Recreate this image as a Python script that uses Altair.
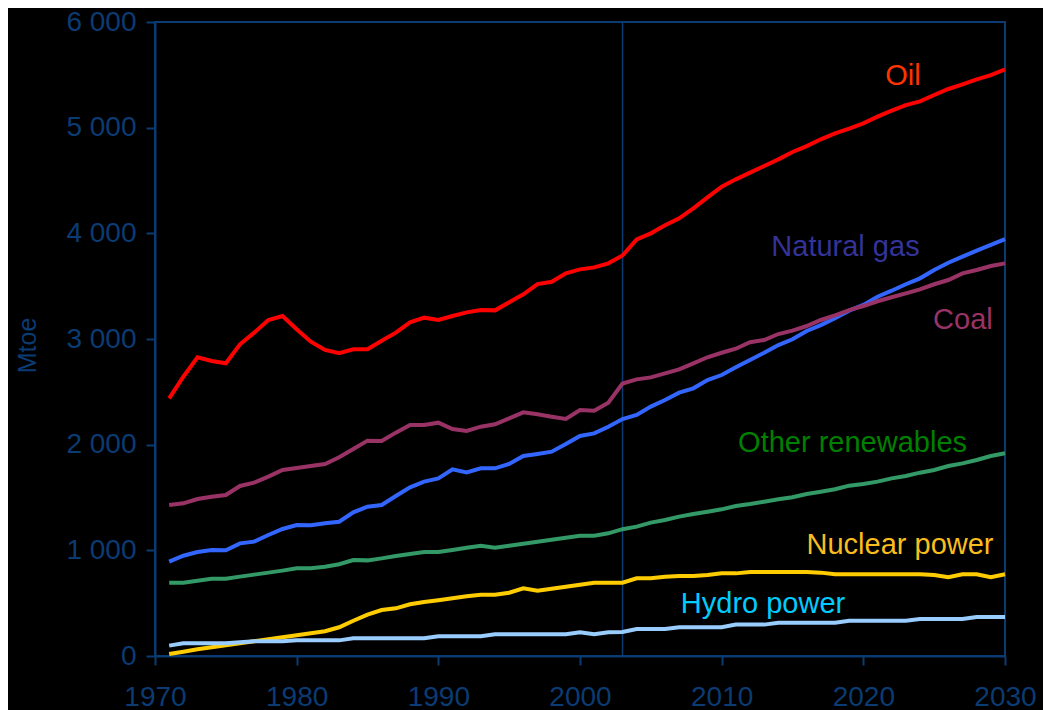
import altair as alt
import pandas as pd

years = list(range(1971, 2031))

oil = [2439, 2643, 2827, 2792, 2770, 2950, 3060, 3180, 3218, 3092,
       2975, 2896, 2865, 2903, 2903, 2984, 3060, 3158, 3202, 3180,
       3218, 3252, 3274, 3271, 3347, 3423, 3520, 3542, 3621, 3659,
       3678, 3716, 3790, 3943, 4000, 4076, 4142, 4237, 4341, 4442,
       4511, 4574, 4637, 4700, 4770, 4826, 4890, 4946, 4990, 5041,
       5104, 5161, 5214, 5249, 5309, 5366, 5410, 5457, 5498, 5552]

coal = [1429, 1445, 1486, 1508, 1524, 1609, 1640, 1697, 1760, 1779,
        1798, 1817, 1880, 1959, 2038, 2035, 2114, 2186, 2186, 2208,
        2148, 2129, 2170, 2193, 2249, 2306, 2287, 2265, 2243, 2328,
        2322, 2397, 2578, 2618, 2637, 2675, 2713, 2770, 2827, 2870,
        2908, 2969, 2990, 3047, 3079, 3123, 3180, 3224, 3274, 3312,
        3357, 3395, 3432, 3470, 3518, 3558, 3621, 3653, 3691, 3716]

gas = [893, 949, 984, 1003, 1000, 1066, 1082, 1145, 1202, 1240,
       1237, 1256, 1271, 1360, 1413, 1429, 1514, 1596, 1650, 1681,
       1767, 1738, 1776, 1776, 1817, 1893, 1912, 1934, 2006, 2082,
       2107, 2170, 2242, 2281, 2360, 2423, 2492, 2533, 2612, 2659,
       2732, 2801, 2870, 2943, 2997, 3076, 3132, 3196, 3268, 3322,
       3400, 3457, 3518, 3574, 3653, 3722, 3779, 3836, 3890, 3946]

renew = [694, 694, 713, 732, 732, 751, 770, 789, 808, 830,
         830, 845, 868, 908, 905, 924, 946, 965, 984, 984,
         1003, 1025, 1044, 1025, 1044, 1063, 1082, 1101, 1120, 1139,
         1139, 1161, 1200, 1224, 1262, 1287, 1319, 1344, 1366, 1388,
         1420, 1438, 1460, 1483, 1502, 1533, 1555, 1578, 1612, 1628,
         1650, 1681, 1703, 1735, 1760, 1798, 1823, 1855, 1893, 1918]

nuclear = [19, 41, 63, 82, 101, 120, 139, 158, 177, 196,
           215, 234, 272, 334, 391, 435, 451, 489, 511, 527,
           546, 565, 580, 580, 599, 640, 618, 637, 656, 675,
           694, 694, 694, 735, 735, 751, 757, 757, 767, 782,
           782, 795, 795, 795, 795, 795, 789, 773, 773, 773,
           773, 773, 773, 773, 767, 745, 773, 773, 745, 773]

hydro = [98, 120, 120, 120, 120, 129, 139, 139, 139, 148,
         148, 148, 148, 167, 167, 167, 167, 167, 167, 186,
         186, 186, 186, 205, 205, 205, 205, 205, 205, 224,
         205, 224, 228, 255, 255, 255, 272, 272, 272, 272,
         297, 297, 297, 315, 315, 315, 315, 315, 334, 334,
         334, 334, 334, 350, 350, 350, 350, 369, 369, 369]

series_names = ["Nuclear power", "Hydro power", "Other renewables", "Natural gas", "Coal", "Oil"]
series_values = [nuclear, hydro, renew, gas, coal, oil]
line_colors = ["#FFCC00", "#99CCFF", "#339966", "#3366FF", "#993366", "#FF0000"]

label_texts = ["Oil", "Natural gas", "Coal", "Other renewables", "Nuclear power", "Hydro power"]
label_x = [2022.8, 2018.74, 2027.03, 2019.24, 2022.59, 2012.92]
label_y = [5404, 3785, 3095, 1931, 965, 407]
label_colors = ["#FF3300", "#333399", "#993366", "#008000", "#F9BE1E", "#00CCFF"]

x_ticks = [1970, 1980, 1990, 2000, 2010, 2020, 2030]
y_ticks = [0, 1000, 2000, 3000, 4000, 5000, 6000]
base_year = [2003]

AXIS_COLOR = "#0B3B73"

rows = []
for name, vals in zip(series_names, series_values):
    for yr, v in zip(years, vals):
        rows.append({"year": yr, "value": v, "series": name})
df = pd.DataFrame(rows)

labels_df = pd.DataFrame({"text": label_texts, "x": label_x, "y": label_y, "color": label_colors})
rule_df = pd.DataFrame({"year": base_year})

x_scale = alt.Scale(domain=[1970, 2030], nice=False, zero=False)
y_scale = alt.Scale(domain=[0, 6000], nice=False)

lines = alt.Chart(df).mark_line(strokeWidth=4).encode(
    x=alt.X("year:Q", scale=x_scale,
            axis=alt.Axis(values=x_ticks, format="d", title=None, labelFlush=False,
                          labelPadding=18)),
    y=alt.Y("value:Q", scale=y_scale,
            axis=alt.Axis(values=y_ticks, title="Mtoe",
                          labelExpr="replace(format(datum.value, ',d'), ',', ' ')",
                          labelPadding=10,
                          titleFont="Liberation Sans", titleFontSize=25,
                          titleFontWeight="normal", titleColor=AXIS_COLOR,
                          titleX=-115, titleY=323)),
    color=alt.Color("series:N", scale=alt.Scale(domain=series_names, range=line_colors), legend=None),
    order=alt.Order("series:N"),
)

rule = alt.Chart(rule_df).mark_rule(color=AXIS_COLOR, strokeWidth=1.5).encode(
    x=alt.X("year:Q", scale=x_scale)
)

texts = alt.Chart(labels_df).mark_text(
    align="center", baseline="alphabetic", font="Liberation Sans", fontSize=29
).encode(
    x=alt.X("x:Q", scale=x_scale),
    y=alt.Y("y:Q", scale=y_scale),
    text="text:N",
    color=alt.Color("color:N", scale=None),
)

chart = alt.layer(rule, lines, texts).properties(
    width=850, height=634,
    autosize=alt.AutoSizeParams(type="none"),
    padding={"left": 147, "top": 14, "right": 38, "bottom": 58},
    background="black",
).configure_view(
    stroke=AXIS_COLOR, strokeWidth=2
).configure_axis(
    grid=False,
    labelFont="Liberation Sans", labelFontSize=28, labelColor=AXIS_COLOR,
    domainColor=AXIS_COLOR, domainWidth=2, tickColor=AXIS_COLOR, tickWidth=2, tickSize=9,
)

chart.save("out.html", embed_options={"renderer": "svg", "actions": False})
